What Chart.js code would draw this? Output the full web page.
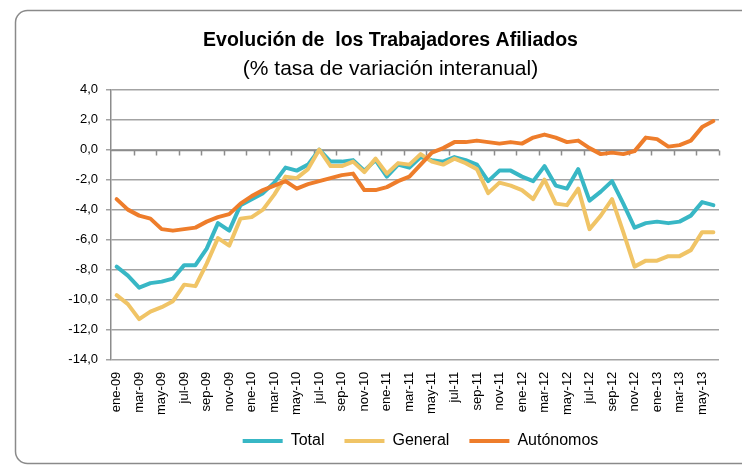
<!DOCTYPE html>
<html>
<head>
<meta charset="utf-8">
<script src="https://cdn.jsdelivr.net/npm/chart.js@4"></script>
<style>
  html, body { margin: 0; padding: 0; background: #fff; }
</style>
</head>
<body>
<canvas id="grafico" width="742" height="465"></canvas>
<script>
// Datos del grafico (tasa de variacion interanual, %)

const categorias = [
  "ene-09", "feb-09", "mar-09", "abr-09", "may-09", "jun-09", "jul-09", "ago-09", "sep-09", "oct-09", "nov-09", "dic-09",
  "ene-10", "feb-10", "mar-10", "abr-10", "may-10", "jun-10", "jul-10", "ago-10", "sep-10", "oct-10", "nov-10", "dic-10",
  "ene-11", "feb-11", "mar-11", "abr-11", "may-11", "jun-11", "jul-11", "ago-11", "sep-11", "oct-11", "nov-11", "dic-11",
  "ene-12", "feb-12", "mar-12", "abr-12", "may-12", "jun-12", "jul-12", "ago-12", "sep-12", "oct-12", "nov-12", "dic-12",
  "ene-13", "feb-13", "mar-13", "abr-13", "may-13", "jun-13",
];

const total = [
  -7.8, -8.4, -9.2, -8.9, -8.8, -8.6, -7.7, -7.7, -6.6, -4.9, -5.4, -3.7,
  -3.3, -2.9, -2.2, -1.2, -1.4, -1.0, 0.0, -0.8, -0.8, -0.7, -1.4, -0.7,
  -1.8, -1.0, -1.2, -0.5, -0.7, -0.8, -0.5, -0.7, -1.0, -2.1, -1.4, -1.4,
  -1.8, -2.1, -1.1, -2.4, -2.6, -1.3, -3.4, -2.8, -2.1, -3.6, -5.2, -4.9,
  -4.8, -4.9, -4.8, -4.4, -3.5, -3.7,
];

const general = [
  -9.7, -10.3, -11.3, -10.8, -10.5, -10.1, -9.0, -9.1, -7.6, -5.9, -6.4, -4.6,
  -4.5, -4.0, -3.0, -1.8, -1.9, -1.3, 0.0, -1.1, -1.1, -0.8, -1.5, -0.6,
  -1.6, -0.9, -1.0, -0.3, -0.8, -1.0, -0.6, -0.9, -1.3, -2.9, -2.2, -2.4,
  -2.7, -3.3, -2.0, -3.6, -3.7, -2.6, -5.3, -4.4, -3.3, -5.5, -7.8, -7.4,
  -7.4, -7.1, -7.1, -6.7, -5.5, -5.5,
];

const autonomos = [
  -3.3, -4.0, -4.4, -4.6, -5.3, -5.4, -5.3, -5.2, -4.8, -4.5, -4.3, -3.6,
  -3.1, -2.7, -2.4, -2.1, -2.6, -2.3, -2.1, -1.9, -1.7, -1.6, -2.7, -2.7,
  -2.5, -2.1, -1.8, -1.0, -0.2, 0.1, 0.5, 0.5, 0.6, 0.5, 0.4, 0.5,
  0.4, 0.8, 1.0, 0.8, 0.5, 0.6, 0.1, -0.3, -0.2, -0.3, -0.1, 0.8,
  0.7, 0.2, 0.3, 0.6, 1.5, 1.9,
];

const ejeY = { min: -14, max: 4, paso: 2 };

const FUENTE = "'Liberation Sans', Arial, sans-serif";
const GRIS = "#a3a3a3";

// Marco redondeado alrededor del grafico
const marco = {
  id: "marco",
  beforeDraw(chart) {
    const ctx = chart.ctx;
    const x = 15.5, y = 10.5, r = 12, abajo = 463.5, derecha = 760;
    ctx.save();
    ctx.strokeStyle = "#8a8a8a";
    ctx.lineWidth = 1.5;
    ctx.beginPath();
    ctx.moveTo(derecha, y);
    ctx.lineTo(x + r, y);
    ctx.arcTo(x, y, x, y + r, r);
    ctx.lineTo(x, abajo - r);
    ctx.arcTo(x, abajo, x + r, abajo, r);
    ctx.lineTo(derecha, abajo);
    ctx.stroke();
    ctx.restore();
  },
};

// Marcas del eje horizontal sobre la linea del 0
const marcasEje = {
  id: "marcasEje",
  beforeDatasetsDraw(chart) {
    const ctx = chart.ctx;
    const xs = chart.scales.x;
    const y0 = Math.round(chart.scales.y.getPixelForValue(0)) + 0.5;
    const ancho = (xs.right - xs.left) / categorias.length;
    ctx.save();
    ctx.strokeStyle = "#8c8c8c";
    ctx.lineWidth = 1.5;
    ctx.beginPath();
    ctx.moveTo(xs.left, y0);
    ctx.lineTo(xs.right, y0);
    for (let i = 2; i <= categorias.length; i += 2) {
      const px = Math.round(xs.left + i * ancho) + 0.5;
      ctx.moveTo(px, y0);
      ctx.lineTo(px, y0 + 5);
    }
    ctx.stroke();
    ctx.restore();
  },
};

// La leyenda va algo desplazada a la derecha y hacia arriba, como en el original
const moverLeyenda = {
  id: "moverLeyenda",
  afterLayout(chart) {
    chart.legend.left += 30;
    chart.legend.right += 30;
    chart.legend.top -= 6;
    chart.legend.bottom -= 6;
  },
};

const serie = (label, data, color, orden) => ({
  label,
  data,
  borderColor: color,
  backgroundColor: color,
  borderWidth: 4,
  pointRadius: 0,
  tension: 0,
  borderJoinStyle: "round",
  borderCapStyle: "round",
  order: orden,
});

const grafico = new Chart(document.getElementById("grafico"), {
  type: "line",
  data: {
    labels: categorias,
    datasets: [
      serie("Total", total, "#38b7c5", 2),
      serie("General", general, "#f0c466", 1),
      serie("Autónomos", autonomos, "#ee7d2b", 0),
    ],
  },
  options: {
    responsive: false,
    animation: false,
    devicePixelRatio: 1,
    layout: { padding: { left: 62, right: 23, top: 0, bottom: 0 } },
    plugins: {
      title: {
        display: true,
        text: "Evolución de  los Trabajadores Afiliados",
        color: "#000",
        font: { family: FUENTE, size: 19.5, weight: "bold" },
        padding: { top: 29, bottom: 0 },
      },
      subtitle: {
        display: true,
        text: "(% tasa de variación interanual)",
        color: "#000",
        font: { family: FUENTE, size: 21 },
        padding: { top: 4, bottom: 8 },
      },
      legend: {
        position: "bottom",
        labels: {
          usePointStyle: true,
          pointStyle: "line",
          pointStyleWidth: 40,
          boxHeight: 14,
          padding: 20,
          color: "#000",
          font: { family: FUENTE, size: 16 },
          sort: (a, b) => a.datasetIndex - b.datasetIndex,
        },
      },
      tooltip: { enabled: false },
    },
    scales: {
      x: {
        offset: true,
        grid: { display: false },
        border: { display: false },
        ticks: {
          autoSkip: false,
          maxRotation: 90,
          minRotation: 90,
          padding: 4,
          color: "#000",
          font: { family: FUENTE, size: 13 },
          callback: (v, i) => (i % 2 === 0 ? categorias[i] : ""),
        },
      },
      y: {
        min: ejeY.min,
        max: ejeY.max,
        afterFit: (s) => { s.width = 49; },
        grid: { color: GRIS, lineWidth: 1.5, tickLength: 5 },
        border: { color: "#8c8c8c", width: 1.5 },
        ticks: {
          stepSize: ejeY.paso,
          padding: 8,
          color: "#000",
          font: { family: FUENTE, size: 13 },
          callback: (v) => v.toFixed(1).replace(".", ","),
        },
      },
    },
  },
  plugins: [marco, marcasEje, moverLeyenda],
});
</script>
</body>
</html>
